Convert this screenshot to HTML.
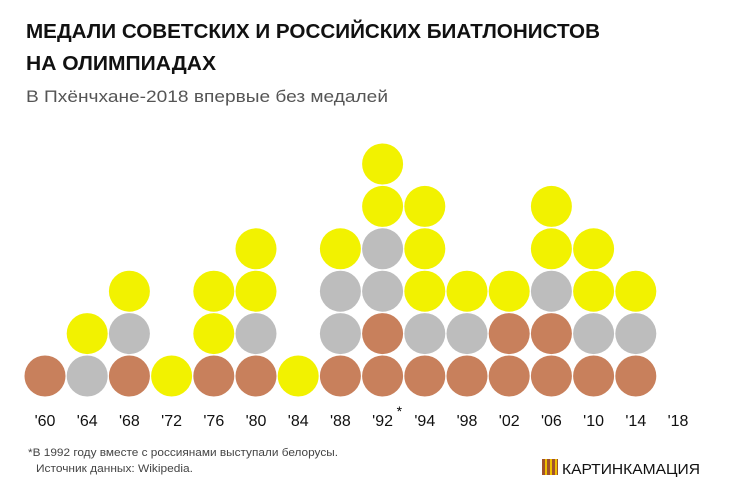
<!DOCTYPE html>
<html><head><meta charset="utf-8"><style>
body{margin:0;background:#fff;width:730px;height:488px;overflow:hidden;font-family:"Liberation Sans","DejaVu Sans",sans-serif}
</style></head><body>
<svg width="730" height="488">
<text x="26" y="38" font-size="20" font-weight="bold" fill="#111" textLength="574" lengthAdjust="spacingAndGlyphs">МЕДАЛИ СОВЕТСКИХ И РОССИЙСКИХ БИАТЛОНИСТОВ</text>
<text x="26" y="70" font-size="20" font-weight="bold" fill="#111" textLength="190" lengthAdjust="spacingAndGlyphs">НА ОЛИМПИАДАХ</text>
<text x="26" y="102" font-size="17" fill="#555" textLength="362" lengthAdjust="spacingAndGlyphs">В Пхёнчхане-2018 впервые без медалей</text>
<g id="marks"></g>
<text x="28" y="456" font-size="11" fill="#444" textLength="310" lengthAdjust="spacingAndGlyphs">*В 1992 году вместе с россиянами выступали белорусы.</text>
<text x="36" y="472" font-size="11" fill="#444" textLength="157" lengthAdjust="spacingAndGlyphs">Источник данных: Wikipedia.</text>
<g><rect x="542" y="459" width="16" height="16" fill="#a0522d"/><rect x="545" y="459" width="2" height="16" fill="#f0c000"/><rect x="550" y="459" width="2" height="16" fill="#f0c000"/><rect x="555" y="459" width="2" height="16" fill="#f0c000"/></g>
<text x="562" y="474" font-size="15" fill="#111" textLength="138" lengthAdjust="spacingAndGlyphs">КАРТИНКАМАЦИЯ</text>
</svg>
<script>
const years=["'60","'64","'68","'72","'76","'80","'84","'88","'92","'94","'98","'02","'06","'10","'14","'18"];
const bronze=[1,0,1,0,1,1,0,1,2,1,1,2,2,1,1,0];
const silver=[0,1,1,0,0,1,0,2,2,1,1,0,1,1,1,0];
const gold=[0,1,1,1,2,2,1,1,2,3,1,1,2,2,1,0];
const ns="http://www.w3.org/2000/svg";
const g=document.getElementById('marks');
const xPos=i=>45+i*42.2;
const yPos=k=>376-k*42.4;
years.forEach((y,i)=>{
  const stack=[];
  for(let a=0;a<bronze[i];a++)stack.push(['#c8805c','bronze']);
  for(let a=0;a<silver[i];a++)stack.push(['#bdbdbd','silver']);
  for(let a=0;a<gold[i];a++)stack.push(['#f2f200','gold']);
  stack.forEach((s,k)=>{
    const c=document.createElementNS(ns,'circle');
    c.setAttribute('cx',xPos(i));c.setAttribute('cy',yPos(k));c.setAttribute('r',20.5);c.setAttribute('fill',s[0]);
    
    
    g.appendChild(c);
  });
  const t=document.createElementNS(ns,'text');
  t.setAttribute('x',xPos(i));t.setAttribute('y',426);t.setAttribute('text-anchor','middle');
  t.setAttribute('font-size','16');t.setAttribute('fill','#111');
  t.textContent=y;
  
  
  g.appendChild(t);
  if(y==="'92"){
    const s=document.createElementNS(ns,'text');
    s.setAttribute('x',xPos(i)+14);s.setAttribute('y',416);s.setAttribute('font-size','14');s.textContent='*';
    
    
    g.appendChild(s);
  }
});
</script>
</body></html>
